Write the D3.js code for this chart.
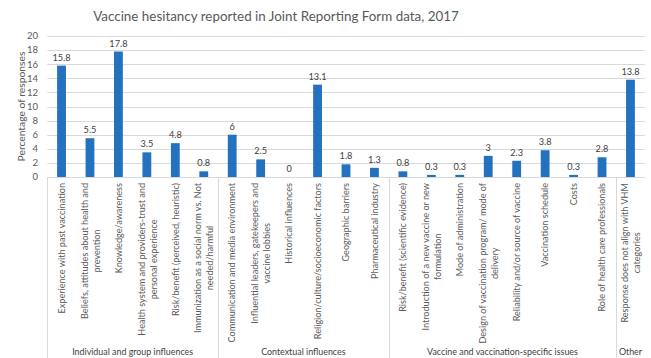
<!DOCTYPE html>
<html><head><meta charset="utf-8">
<script src="https://cdn.jsdelivr.net/npm/d3@7"></script>
<style>body{margin:0;background:#fff}svg{display:block}</style>
</head><body>
<svg id="c" width="651" height="358"></svg>
<script>
const categories = [
  "Experience with past vaccination",
  "Beliefs, attitudes about health and|prevention",
  "Knowledge/awareness",
  "Health system and providers-trust and|personal experience",
  "Risk/benefit (perceived, heuristic)",
  "Immunization as a social norm vs. Not|needed/harmful",
  "Communication and media environment",
  "Influential leaders, gatekeepers and|vaccine lobbies",
  "Historical influences",
  "Religion/culture/socioeconomic factors",
  "Geographic barriers",
  "Pharmaceutical industry",
  "Risk/benefit (scientific evidence)",
  "Introduction of a new vaccine or new|formulation",
  "Mode of administration",
  "Design of vaccination program/ mode of|delivery",
  "Reliability and/or source of vaccine",
  "Vaccination schedule",
  "Costs",
  "Role of health care professionals",
  "Response does not align with  VHM|categories"
];
const values = [15.8,5.5,17.8,3.5,4.8,0.8,6,2.5,0,13.1,1.8,1.3,0.8,0.3,0.3,3,2.3,3.8,0.3,2.8,13.8];
const groupNames = ["Individual and group influences","Contextual influences","Vaccine and vaccination-specific issues","Other"];
const groupSizes = [6,6,8,1];
const yTicks = [0,2,4,6,8,10,12,14,16,18,20];
const title = "Vaccine hesitancy reported in Joint Reporting Form data, 2017";
const yTitle = "Percentage of responses";

const FONT = "Lato, 'Open Sans', sans-serif";
const svg = d3.select("#c");
const plotL = 47.3, plotR = 644.7, plotT = 36, base = 177;
const x = d3.scaleBand().domain(d3.range(categories.length)).range([plotL, plotR]).paddingInner(0).paddingOuter(0);
const y = d3.scaleLinear().domain([0, 20]).range([base, plotT]);
const bw = x.bandwidth() * 0.31;

// title
svg.append("text").attr("x", 276).attr("y", 21).attr("text-anchor", "middle")
  .attr("font-family", FONT).attr("font-size", 13.4).attr("fill", "#595959").text(title);

// gridlines
svg.append("g").selectAll("line").data(yTicks).join("line")
  .attr("x1", plotL).attr("x2", plotR).attr("y1", d => Math.round(y(d)) + 0.5).attr("y2", d => Math.round(y(d)) + 0.5)
  .attr("stroke", "#d9d9d9").attr("stroke-width", 1);

// y tick labels
svg.append("g").selectAll("text").data(yTicks).join("text")
  .attr("x", 38).attr("y", d => y(d)).attr("dy", "0.35em").attr("text-anchor", "end")
  .attr("font-family", FONT).attr("font-size", 9.5).attr("fill", "#595959").text(d => d);

// y title
svg.append("text").attr("transform", `translate(21,${(plotT + base) / 2}) rotate(-90)`)
  .attr("text-anchor", "middle").attr("dy", "0.35em")
  .attr("font-family", FONT).attr("font-size", 10.3).attr("fill", "#595959").text(yTitle);

// bars
svg.append("g").selectAll("rect").data(values).join("rect")
  .attr("x", (d, i) => x(i) + x.bandwidth() / 2 - bw / 2).attr("width", bw)
  .attr("y", d => y(d)).attr("height", d => base - y(d)).attr("fill", "#2471c0");

// value labels
svg.append("g").selectAll("text").data(values).join("text")
  .attr("x", (d, i) => x(i) + x.bandwidth() / 2).attr("y", d => y(d) - 5)
  .attr("text-anchor", "middle").attr("font-family", FONT).attr("font-size", 9.2).attr("fill", "#404040")
  .text(d => d);

// separators
let acc = 0;
const seps = [0];
groupSizes.forEach(s => { acc += s; if (acc < categories.length) seps.push(acc); });
svg.append("g").selectAll("line").data(seps).join("line")
  .attr("x1", d => Math.round(plotL + d * x.bandwidth()) + 0.5).attr("x2", d => Math.round(plotL + d * x.bandwidth()) + 0.5)
  .attr("y1", base).attr("y2", 358).attr("stroke", "#d9d9d9");

// category labels
const labTop = 183;
categories.forEach((c, i) => {
  const lines = c.split("|");
  const cx = x(i) + x.bandwidth() / 2;
  const g = svg.append("g");
  const ts = lines.map((ln, k) => g.append("text")
    .attr("font-family", FONT).attr("font-size", 9.1).attr("fill", "#595959")
    .attr("text-anchor", "middle").attr("dy", "0.35em").text(ln));
  const maxLen = d3.max(ts, t => t.node().getComputedTextLength());
  const cy = labTop + maxLen / 2;
  ts.forEach((t, k) => {
    const off = (k - (lines.length - 1) / 2) * 12 + (lines.length > 1 ? 0.5 : 0);
    t.attr("transform", `translate(${cx + off},${cy}) rotate(-90)`);
  });
});

// group labels
let start = 0;
groupNames.forEach((n, gi) => {
  const a = plotL + start * x.bandwidth(), b = plotL + (start + groupSizes[gi]) * x.bandwidth();
  svg.append("text").attr("x", (a + b) / 2).attr("y", 352).attr("dy", "0.35em")
    .attr("text-anchor", "middle").attr("font-family", FONT).attr("font-size", 8.9).attr("fill", "#404040").text(n);
  start += groupSizes[gi];
});
</script>
</body></html>
